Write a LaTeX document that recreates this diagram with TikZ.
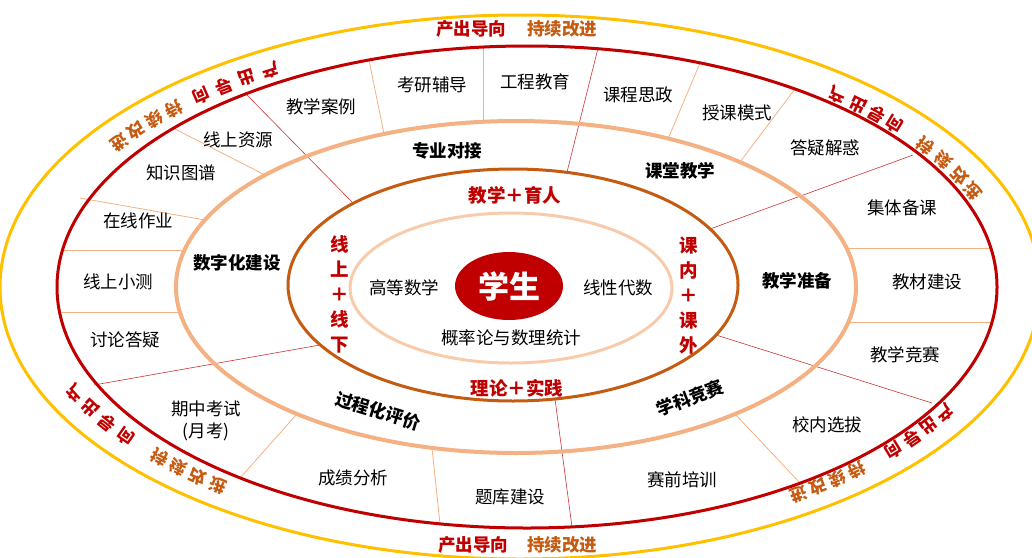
\documentclass[tikz,border=0pt]{standalone}
\usepackage{fontspec}
\setmainfont{Noto Sans CJK SC}
\usetikzlibrary{shapes.geometric}
\definecolor{cred}{HTML}{C00000}
\definecolor{corg}{HTML}{C55A11}
\definecolor{cgold}{HTML}{FFC000}
\definecolor{csal}{HTML}{F4B183}
\definecolor{clite}{HTML}{F8CBAD}
\definecolor{cthin}{HTML}{CC3333}
\begin{document}
\begin{tikzpicture}[x=1pt,y=-1pt,
  lbl/.style={font=\fontsize{17.5}{19}\selectfont, inner sep=0pt},
  grp/.style={font=\fontsize{17.5}{19}\selectfont\bfseries, inner sep=0pt},
  core/.style={font=\fontsize{18.5}{25}\selectfont\bfseries, text=cred, inner sep=0pt, align=center},
  sepR/.style={cthin, line width=0.6pt},
  sepL/.style={csal, line width=0.8pt},
  arcch/.style={font=\fontsize{17}{17}\selectfont\bfseries, inner sep=0pt},
  ring/.style={line width=#1},
]
\useasboundingbox (0,0) rectangle (1032,557);

% separator end points
\coordinate (l1a) at (353,203); \coordinate (l1b) at (245,93);
\coordinate (l2a) at (567,172); \coordinate (l2b) at (598,48);
\coordinate (l3a) at (710,229); \coordinate (l3b) at (913,155);
\coordinate (l4a) at (716,335); \coordinate (l4b) at (932,403);
\coordinate (l5a) at (555,399); \coordinate (l5b) at (572,527);
\coordinate (l6a) at (320,345); \coordinate (l6b) at (94,385);
\coordinate (s1a) at (384,134); \coordinate (s1b) at (369,60);
\coordinate (s2a) at (483,122); \coordinate (s2b) at (483,47);
\coordinate (s3a) at (668,139); \coordinate (s3b) at (700,63);
\coordinate (s4a) at (740,162); \coordinate (s4b) at (795,89);
\coordinate (s5a) at (846,248); \coordinate (s5b) at (991,248);
\coordinate (s6a) at (848,322); \coordinate (s6b) at (992,322);
\coordinate (s7a) at (735,414); \coordinate (s7b) at (800,483);
\coordinate (s8a) at (432,448); \coordinate (s8b) at (440,524);
\coordinate (s9a) at (297,414); \coordinate (s9b) at (240,478);
\coordinate (s10a) at (180,312); \coordinate (s10b) at (60,312);
\coordinate (s11a) at (184,250); \coordinate (s11b) at (63,250);
\coordinate (s12a) at (205,220); \coordinate (s12b) at (80,198);
\coordinate (s13a) at (265,175); \coordinate (s13b) at (173,128);

\foreach \p in {l1,l2,l3,l4,l5,l6} \draw[sepR] (\p a) -- (\p b);
\foreach \p in {s1,s2,s3,s4,s5,s6,s7,s8,s9,s10,s11,s12,s13} \draw[sepL] (\p a) -- (\p b);

% rings
\draw[cgold, ring=3pt] (520,287) ellipse [x radius=520pt, y radius=272pt];
\draw[cred, ring=3pt] (527,287) ellipse [x radius=470pt, y radius=241pt];
\draw[csal, ring=4pt] (516,287) ellipse [x radius=340pt, y radius=166pt];
\draw[corg, ring=3pt] (513,285) ellipse [x radius=225pt, y radius=116pt];
\draw[clite, ring=3pt] (511,288) ellipse [x radius=161pt, y radius=75pt];

% centre
\node[ellipse, fill=cred, minimum width=108pt, minimum height=68pt, inner sep=0pt,
      text=white, font=\fontsize{31}{31}\selectfont\bfseries] (stu) at (509,286) {学生};
\node[lbl] (gs) at (404,288) {高等数学};
\node[lbl] (xd) at (618,288) {线性代数};
\node[lbl] (gl) at (511,338) {概率论与数理统计};

% core ring
\node[core] (c1) at (515,195) {教学＋育人};
\node[core] (c2) at (517,388) {理论＋实践};
\node[core] (c3) at (340,294) {线\\上\\＋\\线\\下};
\node[core] (c4) at (689,296) {课\\内\\＋\\课\\外};

% group labels
\node[grp] (g1) at (447,151) {专业对接};
\node[grp] (g2) at (680,171) {课堂教学};
\node[grp] (g3) at (797,281) {教学准备};
\node[grp, rotate=21] (g4) at (690,398) {学科竞赛};
\node[grp, rotate=-17] (g5) at (378,411) {过程化评价};
\node[grp] (g6) at (237,263) {数字化建设};

% outer labels
\node[lbl] (o1) at (321,107) {教学案例};
\node[lbl] (o2) at (432,85) {考研辅导};
\node[lbl] (o3) at (535,82) {工程教育};
\node[lbl] (o4) at (638,95) {课程思政};
\node[lbl] (o5) at (737,113) {授课模式};
\node[lbl] (o6) at (825,148) {答疑解惑};
\node[lbl] (o7) at (902,208) {集体备课};
\node[lbl] (o8) at (927,282) {教材建设};
\node[lbl] (o9) at (905,355) {教学竞赛};
\node[lbl] (o10) at (827,425) {校内选拔};
\node[lbl] (o11) at (682,480) {赛前培训};
\node[lbl] (o12) at (510,497) {题库建设};
\node[lbl] (o13) at (353,478) {成绩分析};
\node[lbl, align=center, font=\fontsize{17.5}{22}\selectfont] (o14) at (206,421) {期中考试\\(月考)};
\node[lbl] (o15) at (125,340) {讨论答疑};
\node[lbl] (o16) at (118,282) {线上小测};
\node[lbl] (o17) at (138,221) {在线作业};
\node[lbl] (o18) at (181,173) {知识图谱};
\node[lbl] (o19) at (238,140) {线上资源};

% straight top / bottom mottos
\node[grp, text=cred] (tA) at (471,29) {产出导向};
\node[grp, text=corg] (tB) at (562,29) {持续改进};
\node[grp, text=cred] (bA) at (473,545) {产出导向};
\node[grp, text=corg] (bB) at (562,545) {持续改进};

% arc mottos
\foreach \t/\c/\col [count=\i] in {120.6/产/cred,123.9/出/cred,127.2/导/cred,130.5/向/cred,
    135.0/持/corg,138.3/续/corg,141.6/改/corg,144.9/进/corg}{
  \pgfmathsetmacro\ph{atan2(490*sin(\t),252*cos(\t))+90}
  \node[arcch,text=\col,rotate=\ph] (tl\i) at ({520+490*cos(\t)},{287-252*sin(\t)}) {\c};
}
\foreach \t/\c/\col [count=\i] in {49.6/产/cred,46.3/出/cred,43.2/导/cred,40.1/向/cred,
    34.2/持/corg,30.2/续/corg,26.2/改/corg,22.3/进/corg}{
  \pgfmathsetmacro\ph{atan2(490*sin(\t),252*cos(\t))+90}
  \node[arcch,text=\col,rotate=\ph] (tr\i) at ({520+490*cos(\t)},{287-252*sin(\t)}) {\scalebox{-1}[1]{\c}};
}
\foreach \t/\c/\col [count=\i] in {-30.0/产/cred,-33.5/出/cred,-36.9/导/cred,-40.3/向/cred,
    -46.6/持/corg,-49.6/续/corg,-52.5/改/corg,-55.3/进/corg}{
  \pgfmathsetmacro\ph{atan2(490*sin(\t),252*cos(\t))-90}
  \node[arcch,text=\col,rotate=\ph] (br\i) at ({520+490*cos(\t)},{287-252*sin(\t)}) {\c};
}
\foreach \t/\c/\col [count=\i] in {205.0/产/cred,208.8/出/cred,212.6/导/cred,216.4/向/cred,
    222.6/持/corg,225.7/续/corg,228.8/改/corg,231.9/进/corg}{
  \pgfmathsetmacro\ph{atan2(490*sin(\t),252*cos(\t))-90}
  \node[arcch,text=\col,rotate=\ph] (bl\i) at ({520+490*cos(\t)},{287-252*sin(\t)}) {\scalebox{-1}[1]{\c}};
}
\end{tikzpicture}
\end{document}
